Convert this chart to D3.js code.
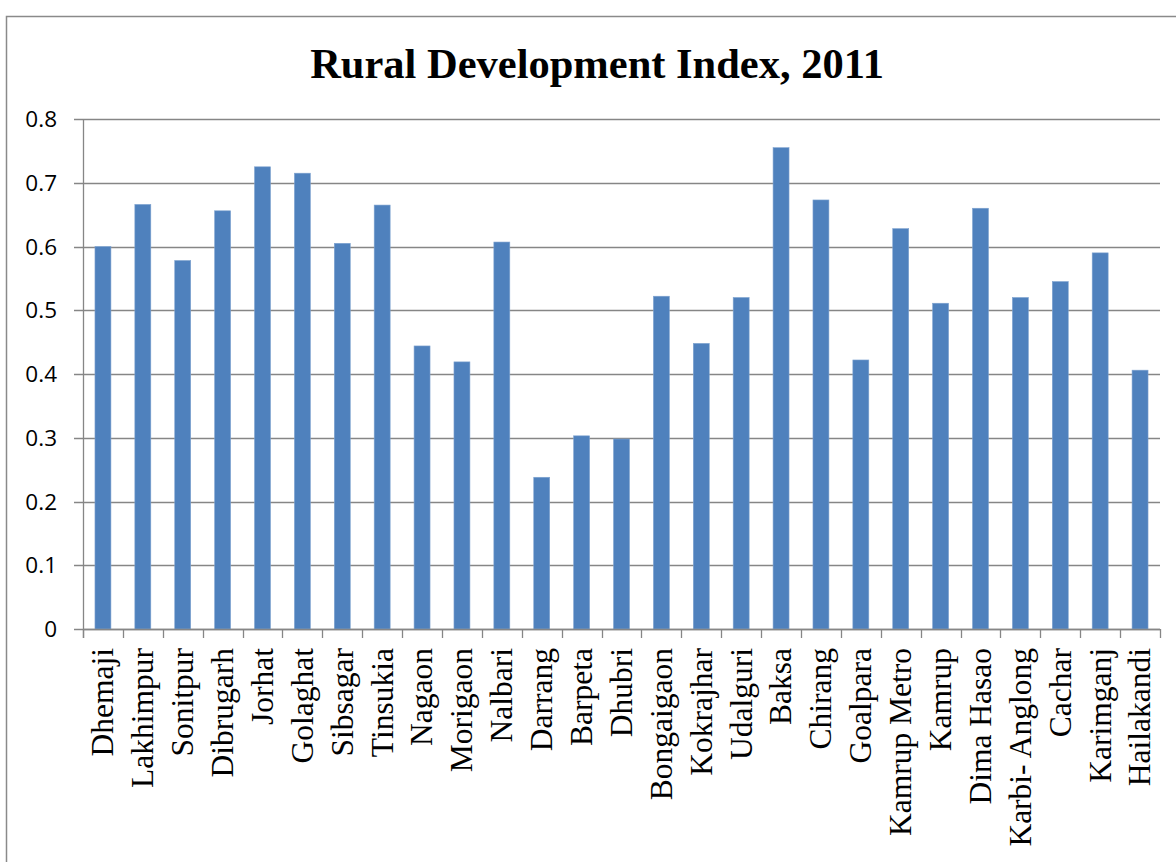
<!DOCTYPE html>
<html>
<head>
<meta charset="utf-8">
<script src="https://cdn.jsdelivr.net/npm/d3@7"></script>
<style>
  html, body { margin: 0; padding: 0; background: #fff; }
  svg { display: block; }
</style>
</head>
<body>
<svg id="chart" width="1176" height="862"></svg>
<script>
const categories = ["Dhemaji","Lakhimpur","Sonitpur","Dibrugarh","Jorhat","Golaghat","Sibsagar","Tinsukia","Nagaon","Morigaon","Nalbari","Darrang","Barpeta","Dhubri","Bongaigaon","Kokrajhar","Udalguri","Baksa","Chirang","Goalpara","Kamrup Metro","Kamrup","Dima Hasao","Karbi- Anglong","Cachar","Karimganj","Hailakandi"];
const values = [0.600,0.666,0.578,0.656,0.725,0.715,0.605,0.665,0.444,0.419,0.607,0.238,0.303,0.298,0.522,0.448,0.520,0.755,0.673,0.422,0.628,0.511,0.660,0.520,0.545,0.590,0.406];
const yTicks = [0,0.1,0.2,0.3,0.4,0.5,0.6,0.7,0.8];
const title = "Rural Development Index, 2011";

const svg = d3.select("#chart");
const pLeft = 83, pRight = 1160, pTop = 119, pBottom = 629;

// chart border
svg.append("rect").attr("x", 6.5).attr("y", 16.5).attr("width", 1200).attr("height", 900)
  .attr("fill", "#fff").attr("stroke", "#8a8a8a").attr("stroke-width", 1.5);

const x = d3.scaleBand().domain(categories).range([pLeft, pRight]).paddingInner(0.6).paddingOuter(0.3);
const xb = d3.scaleBand().domain(categories).range([pLeft, pRight]).padding(0);
const y = d3.scaleLinear().domain([0, 0.8]).range([pBottom, pTop]);

// gridlines
svg.append("g").selectAll("line").data(yTicks).join("line")
  .attr("x1", pLeft - 9).attr("x2", pRight)
  .attr("y1", d => Math.round(y(d)) + 0.5).attr("y2", d => Math.round(y(d)) + 0.5)
  .attr("stroke", "#868686").attr("stroke-width", 1.3);

// y labels
svg.append("g").selectAll("text").data(yTicks).join("text")
  .attr("x", 57).attr("y", d => y(d))
  .attr("dy", "0.36em")
  .attr("text-anchor", "end")
  .attr("font-family", "'Open Sans', 'Liberation Sans', sans-serif")
  .attr("font-size", 22.5)
  .attr("fill", "#000")
  .text(d => d === 0 ? "0" : d3.format(".1f")(d));

// bars
svg.append("g").selectAll("rect").data(categories).join("rect")
  .attr("x", d => x(d))
  .attr("width", x.bandwidth())
  .attr("y", (d, i) => y(values[i]))
  .attr("height", (d, i) => y(0) - y(values[i]))
  .attr("fill", "#4F81BD")
  .attr("stroke", "#7fa3d0").attr("stroke-width", 0.6);

// y axis line
svg.append("line").attr("x1", pLeft + 0.5).attr("x2", pLeft + 0.5)
  .attr("y1", pTop).attr("y2", pBottom + 9)
  .attr("stroke", "#868686").attr("stroke-width", 1.3);

// x axis line
svg.append("line").attr("x1", pLeft).attr("x2", pRight)
  .attr("y1", Math.round(y(0)) + 0.5).attr("y2", Math.round(y(0)) + 0.5)
  .attr("stroke", "#868686").attr("stroke-width", 1.3);

// x boundary ticks
const bounds = categories.map(c => xb(c)).concat([pRight]);
svg.append("g").selectAll("line").data(bounds).join("line")
  .attr("x1", d => Math.round(d) + 0.5).attr("x2", d => Math.round(d) + 0.5)
  .attr("y1", pBottom).attr("y2", pBottom + 9)
  .attr("stroke", "#868686").attr("stroke-width", 1.3);

// x labels
svg.append("g").selectAll("text").data(categories).join("text")
  .attr("transform", d => `translate(${x(d) + x.bandwidth() / 2},648) rotate(-90)`)
  .attr("dy", "0.33em")
  .attr("text-anchor", "end")
  .attr("font-family", "'Liberation Serif', 'Times New Roman', serif")
  .attr("font-size", 31.5)
  .attr("fill", "#000")
  .text(d => d);

// title
svg.append("text")
  .attr("x", 597).attr("y", 78)
  .attr("text-anchor", "middle")
  .attr("font-family", "'Liberation Serif', 'Times New Roman', serif")
  .attr("font-weight", "bold")
  .attr("font-size", 42.5)
  .attr("fill", "#000")
  .text(title);
</script>
</body>
</html>
